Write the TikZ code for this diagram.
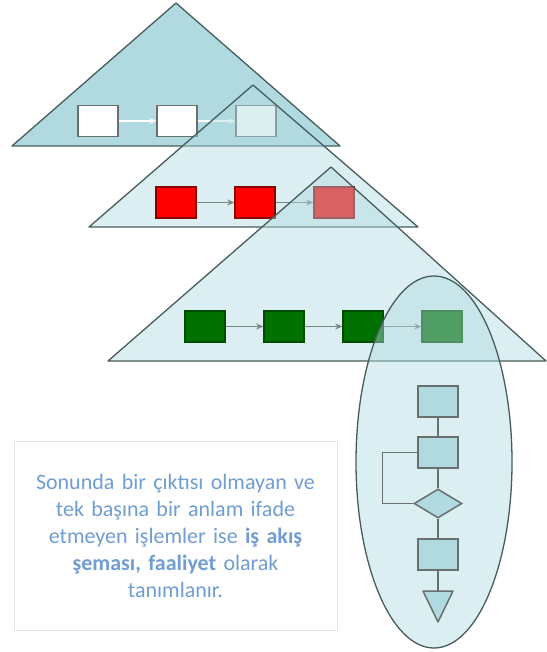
\documentclass[tikz,border=0pt]{standalone}
\usepackage{fontspec}
\setmainfont{Carlito}
\usetikzlibrary{shapes,arrows,arrows.meta,positioning}
\definecolor{layerteal}{RGB}{176,218,223}
\definecolor{edgegray}{RGB}{72,92,92}
\definecolor{boxgray}{RGB}{105,110,110}
\definecolor{arrowgray}{RGB}{125,130,130}
\definecolor{stepred}{RGB}{255,0,0}
\definecolor{stepgreen}{RGB}{0,112,0}
\definecolor{noteblue}{RGB}{112,157,210}
\definecolor{noteframe}{RGB}{226,226,236}

\begin{document}
\begin{tikzpicture}[
    x=1pt, y=-1pt,
    node distance=37.5pt,
    layer/.style={draw=edgegray, line width=1.3pt, fill=layerteal, line join=round},
    wbox/.style={rectangle, draw=boxgray, fill=white, line width=1.5pt, minimum width=40pt, minimum height=31pt, inner sep=0pt},
    rbox/.style={wbox, draw=red!55!black, fill=stepred},
    gbox/.style={wbox, draw=stepgreen!70!black, fill=stepgreen},
    warrow/.style={-{Stealth[length=7pt,width=6pt]}, line width=1.5pt, color=white},
    garrow/.style={-{Stealth[length=7pt,width=6pt]}, line width=1.5pt, color=arrowgray},
    lens/.style={ellipse, draw=edgegray, line width=1.3pt, fill=layerteal, fill opacity=0.45, minimum width=156pt, minimum height=372pt},
    fbox/.style={rectangle, draw=boxgray, fill=layerteal, line width=1.5pt, minimum width=40pt, minimum height=31pt, inner sep=0pt},
    fdec/.style={diamond, draw=boxgray, fill=layerteal, line width=1.5pt, minimum width=48pt, minimum height=29pt, inner sep=0pt},
    fline/.style={draw=boxgray, line width=1.5pt},
    note/.style={rectangle, draw=noteframe, fill=white, line width=0.8pt, minimum width=323pt, minimum height=189pt, text width=310pt, align=center, text=noteblue, font=\fontsize{22}{27}\selectfont}
]
\useasboundingbox (0,0) rectangle (546,652);

% Top level
\draw[layer] (176,3) -- (340,146) -- (12,146) -- cycle;
\node[wbox] (w1) at (98,121) {};
\node[wbox, right=of w1] (w2) {};
\node[wbox, right=of w2] (w3) {};
\draw[warrow] (w1) -- (w2);
\draw[warrow] (w2) -- (w3);

% Second level
\draw[layer, fill opacity=0.45] (253,85) -- (418,227) -- (89,227) -- cycle;
\node[rbox] (r1) at (176,202.5) {};
\node[rbox, right=of r1] (r2) {};
\node[rbox, right=of r2] (r3) {};
\draw[garrow] (r1) -- (r2);
\draw[garrow] (r2) -- (r3);

% Third level
\draw[layer, fill opacity=0.45] (331,167) -- (546,361) -- (108,361) -- cycle;
\node[gbox] (g1) at (205,326.5) {};
\node[gbox, right=of g1] (g2) {};
\node[gbox, right=of g2] (g3) {};
\node[gbox, right=of g3] (g4) {};
\draw[garrow] (g1) -- (g2);
\draw[garrow] (g2) -- (g3);
\draw[garrow] (g3) -- (g4);

% Zoomed-in step
\node[lens] (zoomin) at (434,462) {};
\node[fbox] (fa) at (438,401.5) {};
\node[fbox] (fb) at (438,452.5) {};
\node[fdec] (fd) at (438,503.5) {};
\node[fbox] (fc) at (438,554.5) {};
\coordinate (ftop) at (438,591);
\draw[fline, fill=layerteal, line join=round] (423,591) -- (453,591) -- (438,622) -- cycle;
\draw[fline] (fa) -- (fb);
\draw[fline] (fb) -- (fd);
\draw[fline] (fd) -- (fc);
\draw[fline] (fc) -- (ftop);
\draw[fline] (fb.west) -- ++(-35,0) |- (fd.west);

% Note
\node[note] (memo) at (175.5,535.5) {Sonunda bir çıktısı olmayan ve\\tek başına bir anlam ifade\\etmeyen işlemler ise \textbf{iş akış}\\\textbf{şeması, faaliyet} olarak\\tanımlanır.};

\end{tikzpicture}
\end{document}
